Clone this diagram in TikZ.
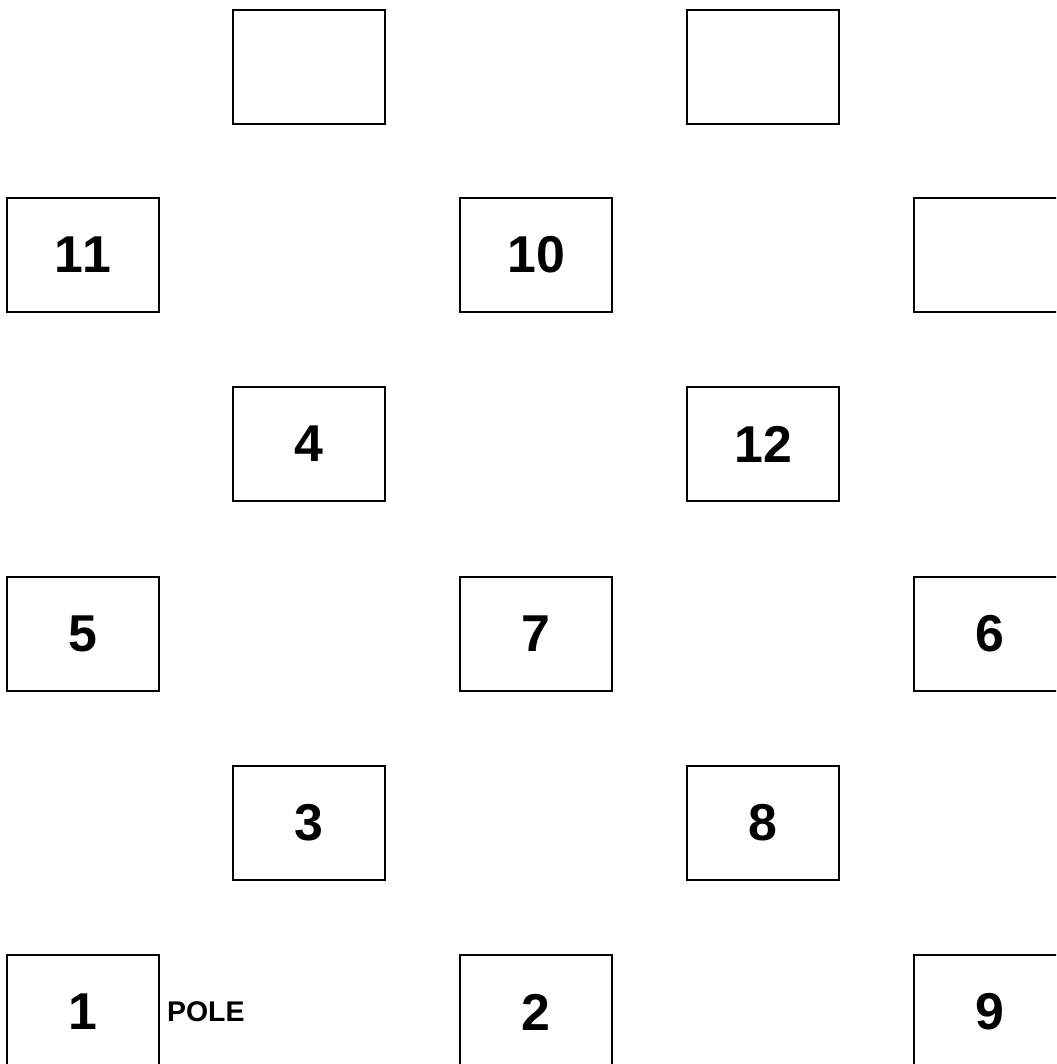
\documentclass[tikz,border=0pt]{standalone}
\usepackage{fontspec}
\setmainfont[Kerning=Off]{Liberation Sans}
\usepackage{tikz}
\usetikzlibrary{positioning}

\tikzset{
  stand/.style={draw, line width=0.8pt, minimum width=3.04cm, minimum height=2.28cm, inner sep=0pt, font=\fontsize{29.5pt}{32pt}\selectfont\bfseries},
  tag/.style={font=\fontsize{16.2pt}{18pt}\selectfont\bfseries, inner sep=0pt}
}

\begin{document}
\begin{tikzpicture}[x=0.02cm, y=-0.02cm]
    \clip(0,0)rectangle(1056,1064);
    % 列と行
    \def\cA{83}\def\cB{309}\def\cC{536}\def\cD{763}\def\cE{990}

    % 1段目
    \node[stand](top1)at(\cB,67){};
    \node[stand](top2)at(\cD,67){};

    % 2段目
    \node[stand](n11)at(\cA,255){11};
    \node[stand](n10)at(\cC,255){10};
    \node[stand](r2)at(\cE,255){};

    % 3段目
    \node[stand](n4)at(\cB,444){4};
    \node[stand](n12)at(\cD,444){12};

    % 4段目
    \node[stand](n5)at(\cA,634){5};
    \node[stand](n7)at(\cC,634){7};
    \node[stand](n6)at(\cE,634){6};

    % 5段目
    \node[stand](n3)at(\cB,823){3};
    \node[stand](n8)at(\cD,823){8};

    % 6段目
    \node[stand](n1)at(\cA,1012){1};
    \node[stand](n2)at(\cC,1012){2};
    \node[stand](n9)at(\cE,1012){9};

    % pole
    \node[tag, anchor=west, right=4pt of n1](pole){POLE};
\end{tikzpicture}
\end{document}
